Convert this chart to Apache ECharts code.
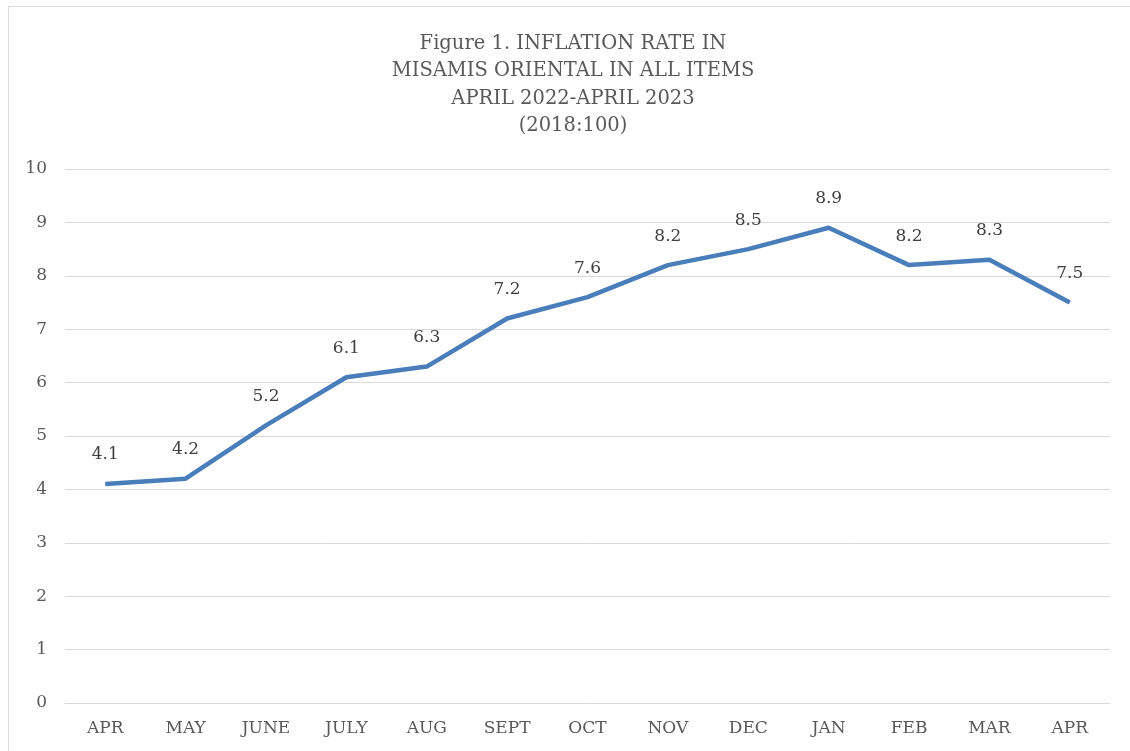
<!DOCTYPE html>
<html><head><meta charset="utf-8">
<script src="https://cdn.jsdelivr.net/npm/echarts@6/dist/echarts.min.js"></script>
<style>
html,body{margin:0;padding:0;background:#fff;}
#wrap{position:relative;width:1130px;height:751px;overflow:hidden;}
#c{width:1130px;height:751px;}
#frame{position:absolute;left:8px;top:6px;width:1140px;height:760px;border:1px solid #d9d9d9;box-sizing:border-box;pointer-events:none;}
</style></head>
<body><div id="wrap"><div id="c"></div><div id="frame"></div></div>
<script>
const categories = ['APR','MAY','JUNE','JULY','AUG','SEPT','OCT','NOV','DEC','JAN','FEB','MAR','APR'];
const inflation = [4.1,4.2,5.2,6.1,6.3,7.2,7.6,8.2,8.5,8.9,8.2,8.3,7.5];
const titleLines = ['Figure 1. INFLATION RATE IN','MISAMIS ORIENTAL IN ALL ITEMS','APRIL 2022-APRIL 2023','(2018:100)'];
const font = '"DejaVu Serif", "Liberation Serif", serif';
const chart = echarts.init(document.getElementById('c'));
chart.setOption({
  animation:false,
  backgroundColor:'#fff',
  graphic:[{type:'text',x:573,y:30,style:{text:titleLines.join('\n'),textAlign:'center',font:'19.5px '+font,fill:'#595959',lineHeight:27.5}}],
  grid:{left:65,right:20,top:169,bottom:48},
  xAxis:{type:'category',data:categories,boundaryGap:true,
    axisLine:{show:true,lineStyle:{color:'#d9d9d9',width:1}},axisTick:{show:false},
    axisLabel:{color:'#595959',fontFamily:font,fontSize:17,margin:17}},
  yAxis:{type:'value',min:0,max:10,interval:1,
    axisLine:{show:false},axisTick:{show:false},
    splitLine:{lineStyle:{color:'#d9d9d9',width:1}},
    axisLabel:{color:'#595959',fontFamily:font,fontSize:17,margin:18}},
  series:[{type:'line',data:inflation,symbol:'circle',symbolSize:1,showSymbol:true,
    itemStyle:{color:'rgba(0,0,0,0)'},
    lineStyle:{color:'#4a7ebb',width:4.5,join:'round'},
    label:{show:true,position:'top',distance:20,color:'#404040',fontFamily:font,fontSize:17}}]
});
</script></body></html>
